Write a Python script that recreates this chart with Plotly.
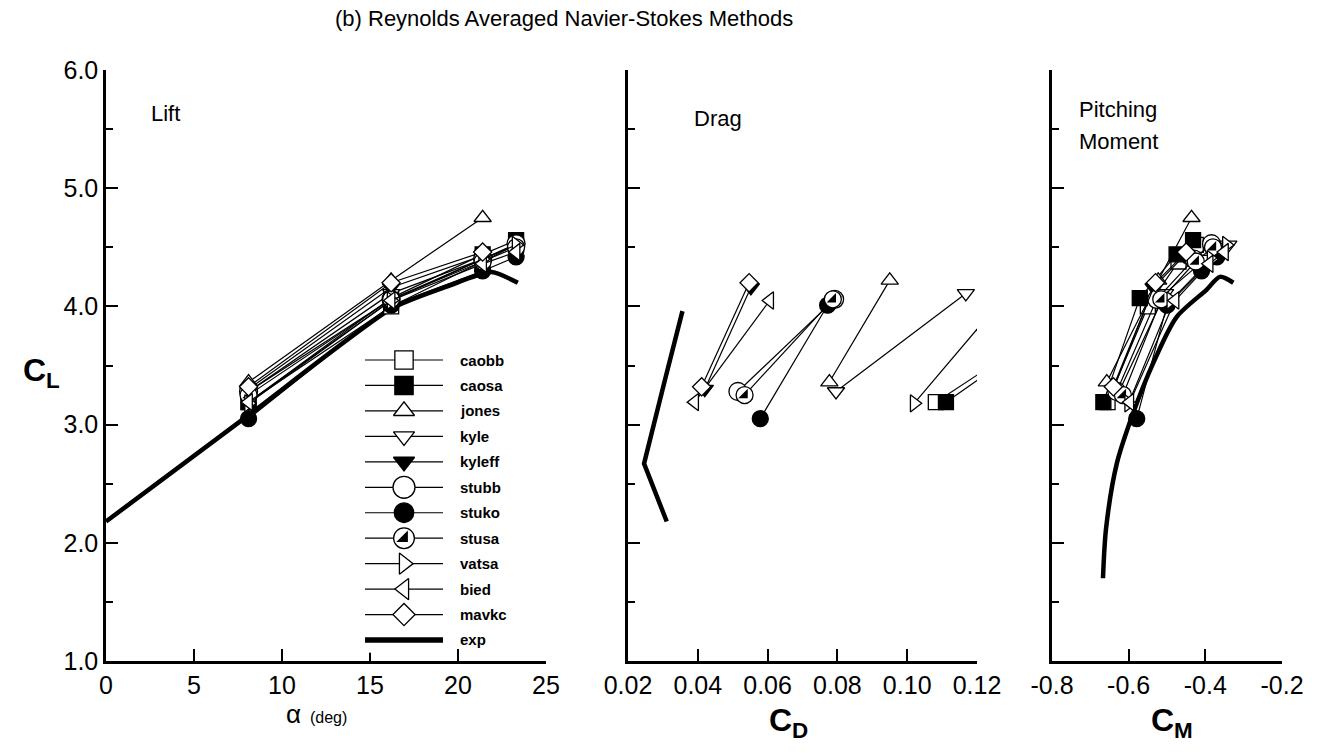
import plotly.graph_objects as go

W, H = 1320, 754

# ---------------- data ----------------
series_names = ["caobb", "caosa", "jones", "kyle", "kyleff", "stubb",
                "stuko", "stusa", "vatsa", "bied", "mavkc"]

caobb_alpha = [8.1, 16.2, 21.4, 23.3]
caobb_cl = [3.19, 4.00, 4.38, 4.52]
caobb_cd = [0.1082, 0.150]
caobb_cm = [-0.655, -0.550, -0.470, -0.425]

caosa_alpha = [8.1, 16.2, 21.4, 23.3]
caosa_cl = [3.19, 4.07, 4.44, 4.56]
caosa_cd = [0.1111, 0.154]
caosa_cm = [-0.666, -0.571, -0.475, -0.432]

jones_alpha = [8.1, 16.2, 21.4]
jones_cl = [3.36, 4.22, 4.75]
jones_cd = [0.0777, 0.0950]
jones_cm = [-0.657, -0.523, -0.436]

kyle_alpha = [8.1, 16.2, 21.4, 23.3]
kyle_cl = [3.28, 4.11, 4.40, 4.52]
kyle_cd = [0.0796, 0.1168]
kyle_cm = [-0.625, -0.505, -0.400, -0.340]

kyleff_alpha = [8.1, 16.2, 21.4]
kyleff_cl = [3.30, 4.16, 4.43]
kyleff_cd = [0.0420, 0.0552]
kyleff_cm = [-0.640, -0.535, -0.455]

stubb_alpha = [8.1, 16.2, 21.4, 23.3]
stubb_cl = [3.28, 4.06, 4.40, 4.53]
stubb_cd = [0.0515, 0.0792]
stubb_cm = [-0.631, -0.527, -0.430, -0.384]

stuko_alpha = [8.1, 16.2, 21.4, 23.3]
stuko_cl = [3.05, 4.01, 4.30, 4.42]
stuko_cd = [0.0579, 0.0772]
stuko_cm = [-0.579, -0.500, -0.410, -0.370]

stusa_alpha = [8.1, 16.2, 21.4, 23.3]
stusa_cl = [3.25, 4.06, 4.38, 4.50]
stusa_cd = [0.0534, 0.0787]
stusa_cm = [-0.615, -0.515, -0.425, -0.380]

vatsa_alpha = [8.1, 16.2, 21.4, 23.3]
vatsa_cl = [3.18, 4.05, 4.40, 4.52]
vatsa_cd = [0.1020, 0.127]
vatsa_cm = [-0.600, -0.490, -0.385, -0.345]

bied_alpha = [8.1, 16.2, 21.4, 23.3]
bied_cl = [3.19, 4.05, 4.36, 4.46]
bied_cd = [0.0391, 0.0606]
bied_cm = [-0.597, -0.479, -0.390, -0.350]

mavkc_alpha = [8.1, 16.2, 21.4]
mavkc_cl = [3.32, 4.20, 4.46]
mavkc_cd = [0.0411, 0.0547]
mavkc_cm = [-0.640, -0.530, -0.450]

exp_lift_alpha = [0.0, 8.1, 16.2, 19.4, 21.9, 23.4]
exp_lift_cl = [2.18, 3.08, 3.98, 4.17, 4.29, 4.20]
exp_drag_cd = [0.0311, 0.0246, 0.0306, 0.0356]
exp_drag_cl = [2.18, 2.67, 3.38, 3.96]
exp_cm_cm = [-0.667, -0.659, -0.631, -0.588, -0.536, -0.475, -0.397, -0.362, -0.327]
exp_cm_cl = [1.70, 2.12, 2.67, 3.10, 3.52, 3.91, 4.14, 4.25, 4.20]

alpha_ticks = [0, 5, 10, 15, 20, 25]
cd_ticks = [0.02, 0.04, 0.06, 0.08, 0.10, 0.12]
cd_ticktext = ["0.02", "0.04", "0.06", "0.08", "0.10", "0.12"]
cm_ticks = [-0.8, -0.6, -0.4, -0.2]
cm_ticktext = ["-0.8", "-0.6", "-0.4", "-0.2"]
cl_ticks = [1, 2, 3, 4, 5, 6]
cl_ticktext = ["1.0", "2.0", "3.0", "4.0", "5.0", "6.0"]

# ---------------- styles ----------------
data = {
    "caobb": (caobb_alpha, caobb_cl, caobb_cd, caobb_cm),
    "caosa": (caosa_alpha, caosa_cl, caosa_cd, caosa_cm),
    "jones": (jones_alpha, jones_cl, jones_cd, jones_cm),
    "kyle": (kyle_alpha, kyle_cl, kyle_cd, kyle_cm),
    "kyleff": (kyleff_alpha, kyleff_cl, kyleff_cd, kyleff_cm),
    "stubb": (stubb_alpha, stubb_cl, stubb_cd, stubb_cm),
    "stuko": (stuko_alpha, stuko_cl, stuko_cd, stuko_cm),
    "stusa": (stusa_alpha, stusa_cl, stusa_cd, stusa_cm),
    "vatsa": (vatsa_alpha, vatsa_cl, vatsa_cd, vatsa_cm),
    "bied": (bied_alpha, bied_cl, bied_cd, bied_cm),
    "mavkc": (mavkc_alpha, mavkc_cl, mavkc_cd, mavkc_cm),
}
style = {
    "caobb": ("square", "white", 15),
    "caosa": ("square", "black", 15),
    "jones": ("triangle-up", "white", 15),
    "kyle": ("triangle-down", "white", 15),
    "kyleff": ("triangle-down", "black", 15),
    "stubb": ("circle", "white", 18),
    "stuko": ("circle", "black", 16),
    "stusa": ("circle", "white", 17),
    "vatsa": ("triangle-right", "white", 15),
    "bied": ("triangle-left", "white", 15),
    "mavkc": ("diamond", "white", 14),
}

FONT = "Liberation Sans, Arial, Helvetica, sans-serif"
fig = go.Figure()


def add_marker_trace(xv, yv, xa, ya, name, mode="lines+markers", size_scale=1.0):
    sym, fill, size = style[name]
    fig.add_trace(go.Scatter(
        x=xv, y=yv, xaxis=xa, yaxis=ya, mode=mode, showlegend=False,
        line=dict(color="black", width=1.2),
        marker=dict(symbol=sym, color=fill, size=size * size_scale,
                    line=dict(color="black", width=1.3)),
        hoverinfo="skip"))
    if name == "stusa":
        fig.add_trace(go.Scatter(
            x=xv, y=yv, xaxis=xa, yaxis=ya, mode="markers", showlegend=False,
            marker=dict(symbol="triangle-se", color="black", size=size * size_scale * 0.62,
                        line=dict(width=0)),
            hoverinfo="skip"))


# experiment lines
fig.add_trace(go.Scatter(x=exp_lift_alpha, y=exp_lift_cl, xaxis="x", yaxis="y", mode="lines",
                         line=dict(color="black", width=4.5, shape="spline", smoothing=0.6),
                         showlegend=False, hoverinfo="skip"))
fig.add_trace(go.Scatter(x=exp_drag_cd, y=exp_drag_cl, xaxis="x2", yaxis="y2", mode="lines",
                         line=dict(color="black", width=4.5), showlegend=False, hoverinfo="skip"))
fig.add_trace(go.Scatter(x=exp_cm_cm, y=exp_cm_cl, xaxis="x3", yaxis="y3", mode="lines",
                         line=dict(color="black", width=4.5, shape="spline", smoothing=0.8),
                         showlegend=False, hoverinfo="skip"))

for name in series_names:
    a, cl, cd, cm = data[name]
    add_marker_trace(a, cl, "x", "y", name)
    add_marker_trace(cd, cl[:len(cd)], "x2", "y2", name)
    add_marker_trace(cm, cl, "x3", "y3", name)

# ---------------- custom legend (own axis pair) ----------------
legend_names = series_names + ["exp"]
n = len(legend_names)
for i, name in enumerate(legend_names):
    yk = n - 1 - i
    if name == "exp":
        fig.add_trace(go.Scatter(x=[0, 1], y=[yk, yk], xaxis="x4", yaxis="y4", mode="lines",
                                 line=dict(color="black", width=5.5), showlegend=False,
                                 hoverinfo="skip"))
    else:
        fig.add_trace(go.Scatter(x=[0, 1], y=[yk, yk], xaxis="x4", yaxis="y4", mode="lines",
                                 line=dict(color="black", width=1.2), showlegend=False,
                                 hoverinfo="skip"))
        add_marker_trace([0.5], [yk], "x4", "y4", name, mode="markers", size_scale=1.22)
    fig.add_annotation(x=458 / W, xref="paper", y=yk, yref="y4", text="<b>%s</b>" % name,
                       showarrow=False, xanchor="left", yanchor="middle",
                       font=dict(family=FONT, size=15, color="black"))

# ---------------- axes ----------------
ydom = [1 - 661 / H, 1 - 70 / H]
ax_line = dict(showline=True, linewidth=2.5, linecolor="black", showgrid=False, zeroline=False,
               ticks="inside", ticklen=12, tickwidth=2, tickcolor="black", automargin=False,
               tickfont=dict(family=FONT, size=25, color="black"))
yax = dict(ax_line, range=[1, 6], tickvals=cl_ticks, ticktext=cl_ticktext,
           minor=dict(dtick=0.5, tick0=1, ticks="inside", ticklen=7, tickwidth=2,
                      tickcolor="black", showgrid=False))

fig.update_layout(
    width=W, height=H, margin=dict(l=0, r=0, t=0, b=0, pad=0, autoexpand=False),
    paper_bgcolor="white", plot_bgcolor="white", template="none", showlegend=False,
    font=dict(family=FONT, color="black"),
    xaxis=dict(ax_line, domain=[106 / W, 546 / W], anchor="y", range=[0, 25],
               tickvals=alpha_ticks),
    yaxis=dict(yax, domain=ydom, anchor="x"),
    xaxis2=dict(ax_line, domain=[628 / W, 977 / W], anchor="y2", range=[0.02, 0.12],
                tickvals=cd_ticks, ticktext=cd_ticktext),
    yaxis2=dict(yax, domain=ydom, anchor="x2", showticklabels=False),
    xaxis3=dict(ax_line, domain=[1052 / W, 1282 / W], anchor="y3", range=[-0.8, -0.2],
                tickvals=cm_ticks, ticktext=cm_ticktext),
    yaxis3=dict(yax, domain=ydom, anchor="x3", showticklabels=False),
    xaxis4=dict(domain=[365 / W, 443 / W], anchor="y4", range=[0, 1], visible=False,
                fixedrange=True, automargin=False),
    yaxis4=dict(domain=[1 - 652.7 / H, 1 - 347.3 / H], anchor="x4", range=[-0.5, n - 0.5],
                visible=False, fixedrange=True, automargin=False),
)

# ---------------- text ----------------
def txt(x, y, text, size, xanchor="center"):
    fig.add_annotation(x=x / W, y=1 - y / H, xref="paper", yref="paper", text=text,
                       showarrow=False, xanchor=xanchor, yanchor="middle",
                       font=dict(family=FONT, size=size, color="black"))


txt(564, 19, "(b) Reynolds Averaged Navier-Stokes Methods", 22)
txt(149, 113, "Lift", 22, xanchor="left")
txt(692, 118, "Drag", 22, xanchor="left")
txt(1118, 110, "Pitching", 22)
txt(1118, 142, "Moment", 22)
txt(42, 372, "<b>C<sub>L</sub></b>", 32)
txt(316, 714, "<span style='font-size:26px'>\u03b1</span>  (deg)", 16)
txt(788, 722, "<b>C<sub>D</sub></b>", 32)
txt(1172, 722, "<b>C<sub>M</sub></b>", 32)

fig.write_html("out.html")
